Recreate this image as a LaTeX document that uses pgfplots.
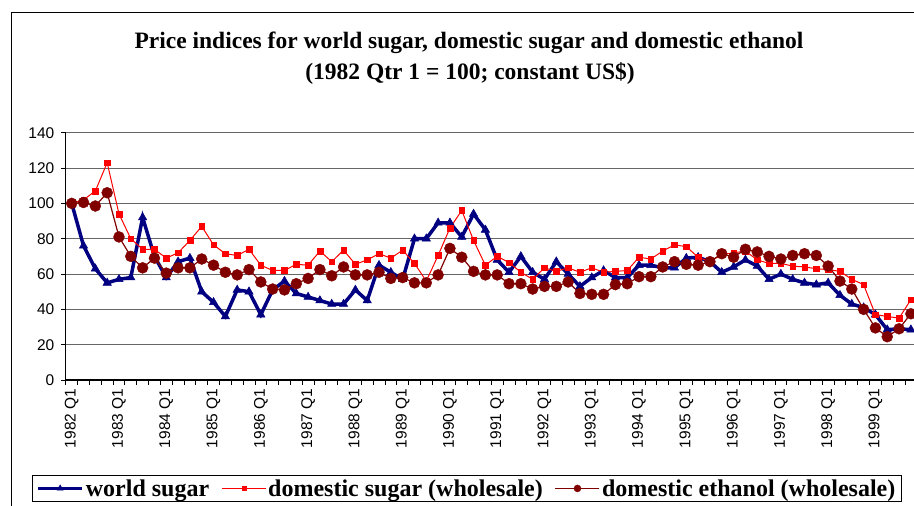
\documentclass[border=0pt]{standalone}
\usepackage{fontspec}
\setmainfont{Liberation Serif}
\setsansfont{Liberation Sans}
\usepackage{pgfplots}
\usepackage{pgfplotstable}
\pgfplotsset{compat=1.18}
\definecolor{wsblue}{HTML}{000080}
\definecolor{dsred}{HTML}{FF0000}
\definecolor{etmaroon}{HTML}{800000}
\pgfplotstableread{
i ws ds eth
0 100 100 100
1 76 102 100.5
2 63 107 98.5
3 55 123 106
4 57 94 81
5 58 80 70
6 92 74 63.5
7 70 74 69
8 58 69 60.5
9 67 72 63.5
10 69 79 63.5
11 50 87 68.5
12 44 76.5 65
13 36 71.5 61
14 51 70.5 59.5
15 50 74 62.5
16 37 65 55.5
17 51 62 51.5
18 56 62 51
19 49 65.5 54.5
20 47 65 57.5
21 45 73 62.5
22 43 67 59
23 43 73.5 64
24 51 65.5 59.5
25 45 68 59.5
26 65 71.5 61
27 61 69 57.5
28 57 73.5 58
29 80 66 55
30 80 56 55
31 89 70.5 59.5
32 89 86 74.5
33 81 96 69.5
34 94 79 61.5
35 85 65 59.5
36 68 70 59.5
37 61 66.5 54.5
38 70 61 54.5
39 61 57 51.5
40 57 63.5 53
41 67 61.5 53
42 60 63.5 55.5
43 53 61 49
44 58 63.5 48.5
45 62 61 48.5
46 58 61.5 54
47 58 62 54.5
48 65 69.5 58.5
49 65 68.5 58.5
50 63.5 73 64
51 63.5 76.5 67
52 69 75.5 65.5
53 69.5 69.5 65
54 67 67 67
55 61 71 71.5
56 64 72 69.5
57 68 73 74
58 64.5 68 72.5
59 57 66 70
60 60 66 68.5
61 57 64.5 70.5
62 55 64 71.5
63 54 63 70.5
64 55 62.5 64.5
65 48 61.5 56
66 43 57 51.5
67 41 54 40
68 37 37 29.5
69 28.5 36 24.5
70 29 35 29
71 28.5 45.5 37.5
}\datatable
\begin{document}
\begin{tikzpicture}
\useasboundingbox (0pt,0pt) rectangle (914pt,-506pt);
\draw[black, line width=0.8pt] (11pt,-520pt) -- (11pt,-12pt) -- (930pt,-12pt);
\node[font=\bfseries\fontsize{23.5}{28}\selectfont, inner sep=0pt] at (469pt,-43pt) {Price indices for world sugar, domestic sugar and domestic ethanol};
\node[font=\bfseries\fontsize{23.5}{28}\selectfont, inner sep=0pt] at (470pt,-73pt) {(1982 Qtr 1 = 100; constant US\$)};
\begin{axis}[
  at={(65.8pt,-380pt)}, anchor=south west,
  scale only axis, width=851pt, height=247.3pt,
  xmin=-0.5, xmax=71.5, ymin=0, ymax=140,
  axis x line*=bottom, axis y line*=left,
  axis line style={black, line width=1.1pt},
  ytick={0,20,...,140},
  xtick={0,4,...,68},
  xticklabels={1982 Q1,1983 Q1,1984 Q1,1985 Q1,1986 Q1,1987 Q1,1988 Q1,1989 Q1,1990 Q1,1991 Q1,1992 Q1,1993 Q1,1994 Q1,1995 Q1,1996 Q1,1997 Q1,1998 Q1,1999 Q1},
  minor xtick={-0.5,0.5,...,71.5},
  tick align=outside,
  major tick length=5pt, minor tick length=5pt,
  major x tick style={draw=none},
  minor x tick style={black, line width=0.8pt},
  major y tick style={black, line width=0.8pt},
  ymajorgrids,
  major grid style={black!60, line width=1pt},
  /pgf/number format/assume math mode=true,
  tick label style={font=\sffamily\fontsize{15.5}{17}\selectfont},
  xticklabel style={rotate=90, anchor=east},
  yticklabel style={xshift=-3pt},
  legend columns=3,
  legend style={at={(rel axis cs:-0.0397,-0.384)}, anchor=north west,
    draw=black, line width=0.8pt, fill=white,
    font=\bfseries\fontsize{24}{28}\selectfont,
    inner xsep=4pt, inner ysep=2pt,
    /tikz/every even column/.append style={column sep=10pt}},
  legend image code/.code={\draw[mark repeat=2,mark phase=2,#1] plot coordinates {(0pt,0pt) (22pt,0pt) (44pt,0pt)};},
]
\addlegendimage{wsblue, line width=3.5pt, mark=triangle*, mark size=3.5pt, mark options={solid, line width=0.5pt}}
\addlegendentry{world sugar}
\addlegendimage{dsred, line width=1pt, mark=square*, mark size=2pt, mark options={solid, line width=0.4pt}}
\addlegendentry{domestic sugar (wholesale)}
\addlegendimage{etmaroon, line width=1.2pt, mark=*, mark size=3.5pt, mark options={solid, line width=0.4pt}}
\addlegendentry{domestic ethanol (wholesale)}
\addplot[forget plot, wsblue, line width=3.5pt, mark=triangle*, mark size=4.8pt, mark options={solid, line width=0.5pt}] table[x=i, y=ws] {\datatable};
\addplot[forget plot, dsred, line width=1pt, mark=square*, mark size=2.8pt, mark options={solid, line width=0.4pt}] table[x=i, y=ds] {\datatable};
\addplot[forget plot, etmaroon, line width=1.2pt, mark=*, mark size=5.5pt, mark options={solid, line width=0.4pt}] table[x=i, y=eth] {\datatable};
\end{axis}
\end{tikzpicture}
\end{document}
